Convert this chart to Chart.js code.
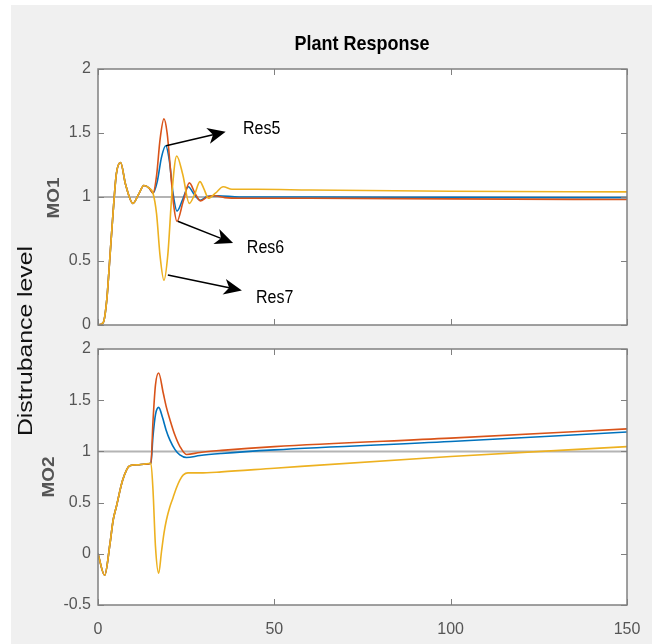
<!DOCTYPE html>
<html>
<head>
<meta charset="utf-8">
<script src="https://cdn.jsdelivr.net/npm/chart.js@4.4.1/dist/chart.umd.min.js"></script>
<style>
  body { margin: 0; width: 652px; height: 644px; background: #fff; overflow: hidden; position: relative; font-family: 'Liberation Sans', Arial, sans-serif; }
  #bg { position: absolute; left: 11px; top: 5px; right: 0; bottom: 0; background: #f0f0f0; }
  canvas { position: absolute; left: 0; }
  #top { top: 0; }
  #bottom { top: 325px; }
  .lbl { position: absolute; white-space: nowrap; transform-origin: center center; }
  #title { left: 362px; top: 44px; font-size: 18px; font-weight: bold; color: #000; transform: translate(-50%, -50%) scaleY(1.15); }
  #ylab { left: 25px; top: 341px; font-size: 21px; color: #111; transform: translate(-50%, -50%) rotate(-90deg) scaleX(1.18); }
  #mo1 { left: 54px; top: 198px; font-size: 16px; font-weight: bold; color: #555; transform: translate(-50%, -50%) rotate(-90deg) scaleX(1.18); }
  #mo2 { left: 49px; top: 477px; font-size: 16px; font-weight: bold; color: #555; transform: translate(-50%, -50%) rotate(-90deg) scaleX(1.18); }
</style>
</head>
<body>
<div id="bg"></div>
<canvas id="top" width="652" height="345"></canvas>
<canvas id="bottom" width="652" height="319"></canvas>
<div class="lbl" id="title">Plant Response</div>
<div class="lbl" id="ylab">Distrubance level</div>
<div class="lbl" id="mo1">MO1</div>
<div class="lbl" id="mo2">MO2</div>
<script>
// x ticks shared by both panels
const xTicks = [0, 50, 100, 150];

// MO1 panel (top)
const mo1Res7T = [0, 1.5, 2.5, 3.3, 4.2, 5.2, 6.4, 7.8, 9.9, 11.5, 13, 14.5, 15.6, 16.6, 17.6, 18.7, 19.8, 21, 22.3, 24, 25.9, 27.4, 28.9, 30.1, 31.3, 33.3, 35.5, 38, 45, 60, 100, 150];
const mo1Res7 = [0, 0.02, 0.2, 0.5, 0.85, 1.18, 1.27, 1.1, 0.95, 1.02, 1.09, 1.07, 1.03, 0.87, 0.54, 0.35, 0.55, 1.04, 1.32, 1.18, 0.95, 1.02, 1.12, 1.06, 0.99, 1.03, 1.08, 1.06, 1.06, 1.055, 1.045, 1.04];

const mo1Res6T = [0, 1.5, 2.5, 3.3, 4.2, 5.2, 6.4, 7.8, 9.9, 11.5, 13, 14.5, 15.6, 16.6, 17.6, 18.7, 19.6, 20.5, 21.4, 22.4, 24.1, 25.9, 27.5, 29, 31, 33, 36, 40, 60, 100, 150];
const mo1Res6 = [0, 0.02, 0.2, 0.5, 0.85, 1.18, 1.27, 1.1, 0.95, 1.02, 1.09, 1.07, 1.03, 1.165, 1.45, 1.61, 1.5, 1.23, 0.95, 0.81, 0.96, 1.11, 1.03, 0.97, 1.0, 1.01, 0.995, 0.99, 0.99, 0.985, 0.98];

const mo1Res5T = [0, 1.5, 2.5, 3.3, 4.2, 5.2, 6.4, 7.8, 9.9, 11.5, 13, 14.5, 15.6, 16.8, 18, 19.2, 20.2, 21.3, 22.4, 24, 25.6, 27.3, 29, 31, 34, 40, 60, 100, 150];
const mo1Res5 = [0, 0.02, 0.2, 0.5, 0.85, 1.18, 1.27, 1.1, 0.95, 1.02, 1.09, 1.07, 1.03, 1.12, 1.31, 1.40, 1.29, 1.025, 0.89, 0.98, 1.08, 1.02, 0.975, 1.005, 1.01, 1.0, 1.0, 0.997, 0.995];

// MO2 panel (bottom)
const mo2Res7T = [0, 1.9, 3.4, 4.3, 5.2, 7, 9, 11.4, 13, 15, 15.6, 16.3, 17.2, 18, 18.7, 19.4, 20.3, 21.3, 22.2, 23.2, 24.2, 25.5, 28.9, 35, 50, 100, 150];
const mo2Res7 = [0, -0.21, 0.1, 0.33, 0.46, 0.72, 0.86, 0.87, 0.875, 0.885, 0.62, 0.07, -0.19, 0.02, 0.2, 0.33, 0.45, 0.55, 0.64, 0.72, 0.77, 0.79, 0.79, 0.8, 0.836, 0.95, 1.047];

const mo2Res6T = [0, 1.9, 3.4, 4.3, 5.2, 7, 9, 11.4, 13, 15, 15.6, 16.3, 17.2, 18.5, 19.4, 20.4, 21.8, 23.2, 25.1, 28.9, 35, 50, 100, 150];
const mo2Res6 = [0, -0.21, 0.1, 0.33, 0.46, 0.72, 0.86, 0.87, 0.875, 0.885, 1.3, 1.65, 1.765, 1.57, 1.43, 1.31, 1.16, 1.05, 0.97, 0.99, 1.01, 1.047, 1.13, 1.22];

const mo2Res5T = [0, 1.9, 3.4, 4.3, 5.2, 7, 9, 11.4, 13, 15, 15.6, 16.3, 17.2, 18.3, 19.3, 20.4, 21.8, 23.2, 25.1, 28.9, 35, 50, 100, 150];
const mo2Res5 = [0, -0.21, 0.1, 0.33, 0.46, 0.72, 0.86, 0.87, 0.875, 0.885, 1.15, 1.36, 1.43, 1.33, 1.21, 1.11, 1.02, 0.965, 0.94, 0.96, 0.98, 1.015, 1.096, 1.19];

// reference level line
const refT = [0, 150];
const refV = [1, 1];

// arrows + labels on MO1 (data units)
const annoLabels = ['Res5', 'Res6', 'Res7'];
const annoTailT = [19.3, 22.6, 19.8];
const annoTailV = [1.40, 0.81, 0.39];
const annoHeadT = [36.2, 38.3, 40.8];
const annoHeadV = [1.51, 0.64, 0.27];
const annoTextT = [41.1, 42.2, 44.8];
const annoTextV = [1.535, 0.60, 0.21];

const blue = '#0072BD', red = '#D95319', yellow = '#EDB120';
const tickFont = { family: "'Liberation Sans', Arial, sans-serif", size: 16 };
const tickColor = '#555';

function pts(ts, vs) {
    return ts.map((t, i) => ({ x: t, y: vs[i] }));
}

function lineSet(data, color, width) {
    return {
        data: data,
        borderColor: color,
        borderWidth: width,
        pointRadius: 0,
        fill: false,
        cubicInterpolationMode: 'monotone'
    };
}

// white plot area, grey box and inward ticks like matlab
const boxPlugin = {
    id: 'box',
    beforeDraw(chart) {
        const { ctx, chartArea: a } = chart;
        ctx.save();
        ctx.fillStyle = '#fff';
        ctx.fillRect(a.left, a.top, a.right - a.left, a.bottom - a.top);
        ctx.restore();
    },
    afterDraw(chart) {
        const { ctx, chartArea: a, scales } = chart;
        ctx.save();
        ctx.strokeStyle = '#808080';
        ctx.lineWidth = 1;
        ctx.beginPath();
        xTicks.forEach(v => {
            const px = Math.round(scales.x.getPixelForValue(v)) + 0.5;
            ctx.moveTo(px, a.bottom); ctx.lineTo(px, a.bottom - 6);
            ctx.moveTo(px, a.top); ctx.lineTo(px, a.top + 6);
        });
        scales.y.ticks.forEach(t => {
            const py = Math.round(scales.y.getPixelForValue(t.value)) + 0.5;
            ctx.moveTo(a.left, py); ctx.lineTo(a.left + 6, py);
            ctx.moveTo(a.right, py); ctx.lineTo(a.right - 6, py);
        });
        ctx.stroke();
        ctx.lineWidth = 1.5;
        ctx.strokeRect(a.left, a.top, a.right - a.left, a.bottom - a.top);
        ctx.restore();
    }
};

// arrows with labels on the top panel
const arrowPlugin = {
    id: 'arrows',
    afterDatasetsDraw(chart) {
        const { ctx, scales } = chart;
        ctx.save();
        annoLabels.forEach((label, i) => {
            const x0 = scales.x.getPixelForValue(annoTailT[i]);
            const y0 = scales.y.getPixelForValue(annoTailV[i]);
            const x1 = scales.x.getPixelForValue(annoHeadT[i]);
            const y1 = scales.y.getPixelForValue(annoHeadV[i]);
            const ang = Math.atan2(y1 - y0, x1 - x0);
            const len = 18, half = 8, notch = 5;
            ctx.strokeStyle = '#000';
            ctx.fillStyle = '#000';
            ctx.lineWidth = 1.5;
            ctx.beginPath();
            ctx.moveTo(x0, y0);
            ctx.lineTo(x1 - Math.cos(ang) * (len - notch), y1 - Math.sin(ang) * (len - notch));
            ctx.stroke();
            ctx.save();
            ctx.translate(x1, y1);
            ctx.rotate(ang);
            ctx.beginPath();
            ctx.moveTo(0, 0);
            ctx.lineTo(-len, -half);
            ctx.lineTo(-len + notch, 0);
            ctx.lineTo(-len, half);
            ctx.closePath();
            ctx.fill();
            ctx.restore();

            const tx = scales.x.getPixelForValue(annoTextT[i]);
            const ty = scales.y.getPixelForValue(annoTextV[i]);
            ctx.save();
            ctx.translate(tx, ty);
            ctx.scale(1, 1.15);
            ctx.font = "16px 'Liberation Sans', Arial, sans-serif";
            ctx.textAlign = 'left';
            ctx.textBaseline = 'middle';
            ctx.fillText(label, 0, 0);
            ctx.restore();
        });
        ctx.restore();
    }
};

function baseOptions(yMin, yMax, padding, showX) {
    return {
        responsive: false,
        animation: false,
        devicePixelRatio: 1,
        layout: { padding: padding, autoPadding: false },
        plugins: { legend: { display: false }, title: { display: false }, tooltip: { enabled: false } },
        scales: {
            x: {
                type: 'linear',
                min: 0,
                max: 150,
                display: showX,
                grid: { display: false, drawTicks: false },
                border: { display: false },
                ticks: { stepSize: 50, padding: 15, font: tickFont, color: tickColor, maxRotation: 0 },
                afterFit(scale) {
                    scale.height = showX ? 39 : 0;
                    // keep the plot box the same width as the top panel
                    scale.paddingLeft = 0;
                    scale.paddingRight = 0;
                }
            },
            y: {
                min: yMin,
                max: yMax,
                grid: { display: false, drawTicks: false },
                border: { display: false },
                ticks: {
                    stepSize: 0.5, padding: 7, font: tickFont, color: tickColor,
                    callback: value => String(value)
                },
                afterFit(scale) { scale.width = 98; }
            }
        }
    };
}

new Chart(document.getElementById('top').getContext('2d'), {
    type: 'line',
    data: {
        datasets: [
            lineSet(pts(mo1Res7T, mo1Res7), yellow, 1.6),
            lineSet(pts(mo1Res6T, mo1Res6), red, 1.6),
            lineSet(pts(mo1Res5T, mo1Res5), blue, 1.6),
            lineSet(pts(refT, refV), '#b4b4b4', 2)
        ]
    },
    options: baseOptions(0, 2, { top: 69, right: 25, bottom: 20, left: 0 }, false),
    plugins: [boxPlugin, arrowPlugin]
});

new Chart(document.getElementById('bottom').getContext('2d'), {
    type: 'line',
    data: {
        datasets: [
            lineSet(pts(mo2Res7T, mo2Res7), yellow, 1.6),
            lineSet(pts(mo2Res6T, mo2Res6), red, 1.6),
            lineSet(pts(mo2Res5T, mo2Res5), blue, 1.6),
            lineSet(pts(refT, refV), '#b4b4b4', 2)
        ]
    },
    options: baseOptions(-0.5, 2, { top: 24, right: 25, bottom: 0, left: 0 }, true),
    plugins: [boxPlugin]
});
</script>
</body>
</html>
